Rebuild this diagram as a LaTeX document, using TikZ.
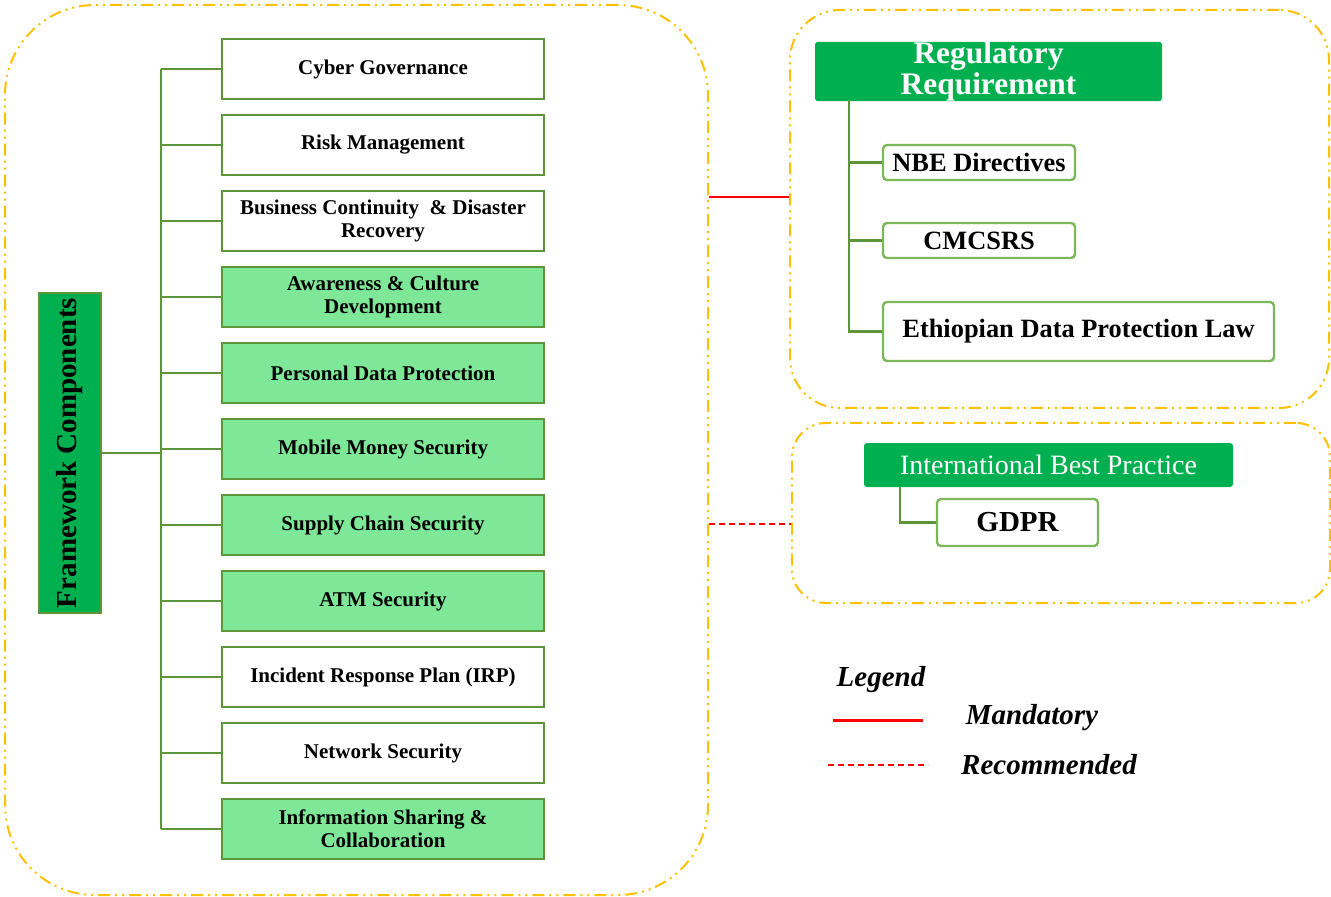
\documentclass[tikz,border=0pt]{standalone}
\usepackage{fontspec}
\setmainfont{Liberation Serif}
\usepackage{graphicx}
\definecolor{darkgreen}{HTML}{00B050}
\definecolor{lightgreen}{HTML}{7EE898}
\definecolor{boxedge}{HTML}{5E943A}
\definecolor{leafedge}{HTML}{7CB85A}
\definecolor{frameorange}{HTML}{FFC000}
\tikzstyle{comp}=[draw=boxedge, line width=1.2pt, fill=white, minimum width=161pt, minimum height=30pt, inner sep=0pt, align=center, font=\fontsize{10.5}{11.5}\selectfont\bfseries]
\tikzstyle{compg}=[comp, fill=lightgreen]
\tikzstyle{head}=[fill=darkgreen, rounded corners=1.5pt, inner sep=0pt, text=white, align=center]
\tikzstyle{leaf}=[draw=leafedge, line width=1.2pt, rounded corners=2pt, fill=white, inner sep=0pt, font=\fontsize{13.2}{14}\selectfont\bfseries]
\tikzstyle{frame}=[draw=frameorange, line width=1pt, dash pattern=on 6pt off 2.5pt on 1pt off 2.5pt on 1pt off 2.5pt, inner sep=0pt]
\tikzstyle{branch}=[draw=boxedge, line width=1.3pt]
\tikzstyle{mand}=[red, line width=1pt]
\tikzstyle{recom}=[red, line width=0.6pt, dash pattern=on 3pt off 2pt]
\tikzstyle{legtext}=[font=\fontsize{14.5}{15}\selectfont\bfseries\itshape]
\begin{document}
\begin{tikzpicture}[x=0.5pt, y=-0.5pt]
\useasboundingbox (0,0) rectangle (1331,897);
% Frames
	\node[frame, rounded corners=45pt, minimum width=351.5pt, minimum height=445pt] (compframe) at (356.5,450) {};
	\node[frame, rounded corners=25pt, minimum width=269.5pt, minimum height=199pt] (regframe) at (1059.5,209) {};
	\node[frame, rounded corners=17pt, minimum width=269pt, minimum height=90pt] (ibpframe) at (1061,513) {};
% Framework components
	\node[fill=darkgreen, draw=boxedge, line width=1.2pt, minimum width=31pt, minimum height=160pt, inner sep=0pt, font=\fontsize{14.5}{15}\selectfont\bfseries] (fc) at (70,453) {\rotatebox{90}{Framework Components}};
	\node[comp] (cgov) at (383,69) {Cyber Governance};
	\node[comp] (risk) at (383,145) {Risk Management};
	\node[comp] (bcdr) at (383,221) {Business Continuity \ \& Disaster\\Recovery};
	\node[compg] (aware) at (383,297) {Awareness \& Culture\\Development};
	\node[compg] (pdp) at (383,373) {Personal Data Protection};
	\node[compg] (mms) at (383,449) {Mobile Money Security};
	\node[compg] (scs) at (383,525) {Supply Chain Security};
	\node[compg] (atm) at (383,601) {ATM Security};
	\node[comp] (irp) at (383,677) {Incident Response Plan (IRP)};
	\node[comp] (net) at (383,753) {Network Security};
	\node[compg] (isc) at (383,829) {Information Sharing \&\\Collaboration};
% Component tree
	\coordinate (trunk) at (161,453);
	\draw[branch] (fc.east) -- (trunk);
	\draw[branch] (cgov.west -| trunk) -- (isc.west -| trunk);
	\draw[branch] (cgov.west -| trunk) -- (cgov.west);
	\draw[branch] (risk.west -| trunk) -- (risk.west);
	\draw[branch] (bcdr.west -| trunk) -- (bcdr.west);
	\draw[branch] (aware.west -| trunk) -- (aware.west);
	\draw[branch] (pdp.west -| trunk) -- (pdp.west);
	\draw[branch] (mms.west -| trunk) -- (mms.west);
	\draw[branch] (scs.west -| trunk) -- (scs.west);
	\draw[branch] (atm.west -| trunk) -- (atm.west);
	\draw[branch] (irp.west -| trunk) -- (irp.west);
	\draw[branch] (net.west -| trunk) -- (net.west);
	\draw[branch] (isc.west -| trunk) -- (isc.west);
% Regulatory requirement
	\node[head, minimum width=173.5pt, minimum height=28.5pt, font=\fontsize{15.7}{15.5}\selectfont\bfseries] (reg) at (988.5,71.5) {Regulatory\\Requirement};
	\node[leaf, minimum width=96pt, minimum height=17.5pt] (nbe) at (979,162.5) {NBE Directives};
	\node[leaf, minimum width=96pt, minimum height=17.5pt] (cmc) at (979,240.5) {CMCSRS};
	\node[leaf, minimum width=195.5pt, minimum height=29.5pt] (edpl) at (1078.5,331.5) {Ethiopian Data Protection Law};
	\coordinate (regtrunk) at (849,100);
	\draw[branch] (regtrunk) |- (edpl.west);
	\draw[branch] (nbe.west -| regtrunk) -- (nbe.west);
	\draw[branch] (cmc.west -| regtrunk) -- (cmc.west);
% International best practice
	\node[head, minimum width=184.5pt, minimum height=22pt, font=\fontsize{14}{14}\selectfont] (ibp) at (1048.5,465) {International Best Practice};
	\node[leaf, minimum width=80.5pt, minimum height=23.5pt, font=\fontsize{14.5}{15}\selectfont\bfseries] (gdpr) at (1017.5,522.5) {GDPR};
	\coordinate (ibptrunk) at (900,487);
	\draw[branch] (ibptrunk) |- (gdpr.west);
% Links
	\coordinate (mandy) at (0,197);
	\coordinate (recy) at (0,524);
	\draw[mand] (compframe.east |- mandy) -- (regframe.west |- mandy);
	\draw[recom] (compframe.east |- recy) -- (ibpframe.west |- recy);
% Legend
	\node[legtext] (legend) at (881,680) {Legend};
	\coordinate (mand1) at (833,720);
	\coordinate (mand2) at (923,720);
	\draw[mand, line width=1.5pt] (mand1) -- (mand2);
	\node[legtext] (mandlbl) at (1032,718) {Mandatory};
	\coordinate (rec1) at (828,765);
	\coordinate (rec2) at (928,765);
	\draw[recom] (rec1) -- (rec2);
	\node[legtext] (reclbl) at (1049,765) {Recommended};
\end{tikzpicture}
\end{document}
